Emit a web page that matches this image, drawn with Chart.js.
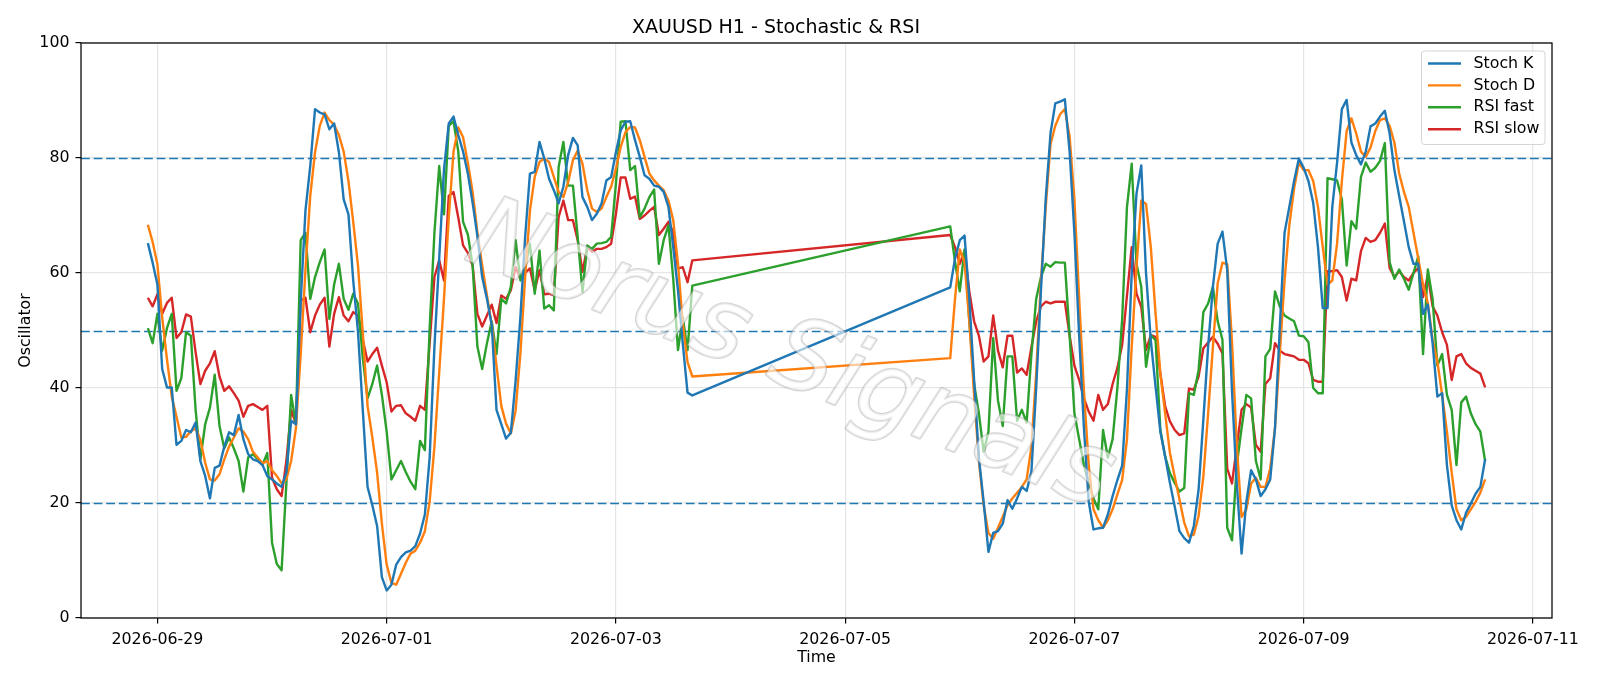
<!DOCTYPE html>
<html>
<head>
<meta charset="utf-8">
<title>XAUUSD H1 - Stochastic & RSI</title>
<script src="https://cdn.jsdelivr.net/npm/chart.js@4.4.1/dist/chart.umd.min.js"></script>
<style>
  html, body { margin: 0; padding: 0; background: #ffffff; }
  #wrap { width: 1600px; height: 686px; }
</style>
</head>
<body>
<div id="wrap"><canvas id="oscChart" width="1600" height="686"></canvas></div>
<script>
// H1 sessions: first bar (UTC) and number of hourly bars
const sessionStarts = ['2026-06-28T22:00:00Z', '2026-07-05T22:00:00Z'];
const sessionBars = [115, 113];

const tickDates = ['2026-06-29', '2026-07-01', '2026-07-03', '2026-07-05', '2026-07-07', '2026-07-09', '2026-07-11'];
const levels = [20, 50, 80];
const seriesNames = ['Stoch K', 'Stoch D', 'RSI fast', 'RSI slow'];
const chartTitle = 'XAUUSD H1 - Stochastic & RSI';
const watermarkText = 'Norus Signals';

// values, week 1 then (after the weekend) week 2
const stochK = [
  65.2, 61.8, 58.0, 43.3, 40.1, 40.1, 30.1, 30.8, 32.7, 32.3,
  34.0, 27.3, 24.7, 20.8, 26.1, 26.5, 29.8, 32.3, 31.8, 35.3,
  31.1, 28.5, 27.6, 27.3, 26.6, 24.7, 24.1, 23.4, 22.8, 25.3,
  34.3, 33.7, 55.0, 70.9, 78.6, 88.5, 87.9, 87.6, 85.0, 86.0,
  81.0, 72.8, 70.2, 58.7, 49.7, 36.2, 22.8, 19.6, 16.0, 7.1,
  4.8, 5.8, 9.3, 10.6, 11.4, 11.7, 12.5, 14.7, 18.0, 27.9,
  47.1, 62.5, 78.0, 86.0, 87.2, 84.0, 81.1, 77.3, 72.2, 66.4,
  59.3, 55.5, 51.0, 36.2, 33.7, 31.2, 32.2, 41.3, 52.3, 66.3,
  77.3, 77.6, 82.8, 79.9, 76.4, 74.4, 72.1, 75.0, 80.5, 83.5,
  82.2, 73.2, 71.5, 69.2, 70.3, 72.1, 76.1, 76.7, 81.0, 84.8,
  86.3, 86.4, 83.1, 80.2, 77.0, 76.4, 75.2, 75.0, 74.1, 71.5,
  64.5, 57.0, 47.7, 39.2, 38.7,
  // week 2
  57.5, 62.5, 65.7, 66.5, 55.5, 41.4, 27.9, 20.2, 11.5, 14.8,
  15.1, 16.4, 20.5, 19.0, 20.8, 22.8, 22.1, 25.5, 40.0, 57.0,
  73.0, 84.3, 89.5, 89.8, 90.2, 81.1, 67.0, 49.0, 33.0, 20.2,
  15.4, 15.6, 15.7, 18.0, 21.2, 24.0, 26.5, 39.7, 59.9, 73.8,
  78.7, 59.9, 48.3, 40.2, 32.4, 28.1, 23.5, 19.4, 15.1, 13.9,
  13.1, 16.0, 22.3, 34.5, 47.2, 57.6, 65.1, 67.2, 60.5, 39.4,
  23.4, 11.2, 20.2, 25.7, 24.1, 21.2, 22.4, 24.1, 33.0, 50.4,
  67.0, 71.5, 76.0, 79.9, 78.3, 76.0, 72.2, 64.5, 53.9, 53.9,
  71.5, 79.2, 88.5, 90.1, 82.7, 80.5, 78.9, 81.1, 85.5, 86.0,
  87.2, 88.2, 84.3, 77.9, 73.4, 69.0, 64.5, 61.6, 61.6, 52.9,
  54.5, 47.8, 38.5, 39.1, 26.6, 19.6, 17.0, 15.4, 18.3, 19.9,
  21.6, 22.8, 27.6
];

const stochD = [
  68.4, 65.4, 61.5, 52.3, 45.0, 38.5, 35.0, 31.4, 31.5, 32.5,
  33.0, 31.0, 27.0, 24.1, 23.9, 25.0, 27.6, 29.8, 31.4, 33.0,
  32.4, 31.1, 28.9, 27.9, 26.9, 27.3, 25.7, 24.7, 23.4, 24.1,
  27.3, 33.0, 45.9, 60.6, 73.4, 81.0, 85.6, 87.9, 86.6, 85.8,
  84.0, 81.1, 76.0, 68.9, 61.3, 49.7, 36.9, 31.4, 25.3, 16.4,
  9.3, 6.1, 5.8, 7.7, 9.6, 11.2, 11.7, 13.1, 15.1, 20.2,
  29.8, 42.7, 55.5, 69.6, 81.1, 85.3, 83.6, 79.2, 74.1, 67.0,
  61.3, 56.1, 51.0, 43.9, 36.9, 33.8, 32.1, 36.1, 46.0, 59.3,
  70.9, 76.7, 79.3, 79.9, 79.3, 76.7, 74.1, 73.2, 75.8, 79.6,
  81.3, 79.0, 74.4, 71.2, 70.6, 71.2, 73.2, 75.0, 78.1, 81.9,
  84.5, 85.4, 85.3, 83.1, 80.2, 77.3, 76.1, 75.2, 74.4, 72.6,
  69.2, 61.6, 51.2, 44.5, 42.0,
  // week 2
  45.2, 55.5, 64.1, 61.9, 51.6, 38.8, 27.3, 19.6, 14.8, 13.8,
  15.7, 17.6, 19.6, 20.8, 21.8, 22.8, 24.1, 29.8, 42.7, 58.7,
  71.5, 82.4, 85.6, 87.6, 88.5, 83.7, 72.8, 55.5, 39.4, 26.6,
  18.9, 17.0, 15.7, 17.0, 18.9, 21.5, 24.0, 31.0, 47.2, 61.0,
  72.6, 72.0, 64.5, 52.9, 42.5, 35.6, 28.7, 24.6, 20.6, 16.6,
  14.2, 14.5, 17.7, 24.6, 35.6, 47.2, 58.2, 61.8, 61.5, 48.0,
  30.0, 17.6, 18.9, 23.4, 24.4, 22.8, 22.8, 26.0, 33.0, 45.9,
  58.7, 68.3, 74.7, 79.2, 77.9, 77.9, 76.0, 71.5, 64.5, 58.0,
  58.7, 65.1, 76.0, 84.7, 86.9, 84.3, 81.1, 80.2, 81.8, 84.7,
  86.6, 86.9, 85.6, 82.7, 77.3, 74.1, 71.5, 67.0, 62.5, 58.0,
  54.8, 48.4, 44.6, 38.8, 32.4, 25.3, 18.9, 17.0, 17.6, 18.9,
  20.2, 21.8, 24.1
];

const rsiFast = [
  50.4, 47.8, 52.9, 46.5, 50.4, 52.9, 39.5, 41.7, 49.7, 49.1,
  36.2, 27.6, 33.7, 36.6, 42.3, 33.4, 29.5, 31.4, 29.5, 27.3,
  22.0, 27.9, 28.5, 27.6, 26.6, 28.7, 13.1, 9.4, 8.3, 23.4,
  38.8, 33.7, 65.7, 67.0, 55.5, 59.3, 61.9, 64.1, 52.0, 58.0,
  61.6, 55.5, 53.6, 56.4, 54.7, 45.2, 38.2, 40.7, 43.9, 38.8,
  32.4, 24.1, 25.7, 27.3, 25.4, 23.7, 22.4, 30.8, 29.2, 50.4,
  67.0, 78.6, 70.2, 85.6, 86.4, 81.1, 68.9, 66.7, 61.3, 47.2,
  43.3, 47.8, 51.6, 45.9, 55.5, 54.7, 57.6, 65.7, 58.7, 61.0,
  65.1, 56.4, 63.9, 53.8, 54.4, 53.5, 78.4, 82.8, 75.2, 75.2,
  66.3, 56.7, 64.8, 64.2, 65.1, 65.2, 65.4, 66.3, 75.5, 86.3,
  86.4, 77.9, 78.6, 69.7, 71.2, 73.2, 74.5, 61.6, 65.7, 68.3,
  59.0, 46.6, 52.3, 46.6, 57.8,
  // week 2
  68.1, 62.0, 56.8, 64.1, 51.6, 40.7, 35.6, 28.9, 32.4, 48.7,
  37.8, 33.4, 45.5, 45.5, 34.3, 36.2, 34.0, 45.9, 55.5, 59.3,
  61.6, 61.1, 61.9, 61.8, 61.8, 49.1, 35.6, 31.1, 26.6, 23.4,
  20.8, 18.9, 32.7, 27.9, 31.1, 40.0, 52.0, 71.4, 79.0, 61.6,
  57.6, 43.7, 49.2, 48.3, 32.7, 28.1, 25.2, 23.5, 22.0, 22.6,
  39.1, 38.8, 43.1, 53.2, 54.7, 57.6, 51.6, 48.4, 15.7, 13.5,
  26.6, 33.0, 38.8, 38.2, 27.3, 24.1, 45.5, 46.8, 56.8, 54.2,
  52.6, 52.1, 51.6, 49.1, 49.0, 48.0, 40.0, 39.1, 39.1, 76.5,
  76.3, 76.1, 72.8, 61.3, 69.0, 67.7, 76.7, 79.2, 77.6, 78.3,
  79.5, 82.6, 61.9, 59.0, 60.6, 59.0, 57.1, 60.0, 62.9, 45.9,
  60.6, 55.5, 43.9, 45.9, 38.8, 36.2, 26.6, 37.5, 38.5, 35.6,
  33.7, 32.4, 27.3
];

const rsiSlow = [
  55.7, 54.2, 56.3, 52.9, 54.8, 55.7, 48.7, 49.7, 52.8, 52.4,
  46.2, 40.7, 43.0, 44.3, 46.4, 42.0, 39.5, 40.3, 39.1, 37.8,
  35.0, 36.9, 37.2, 36.7, 36.2, 36.9, 24.4, 22.4, 21.2, 27.3,
  36.2, 33.7, 55.2, 55.7, 49.7, 52.6, 54.5, 55.7, 47.2, 52.9,
  55.8, 52.6, 51.6, 53.2, 52.6, 48.4, 44.6, 45.9, 47.0, 43.9,
  41.0, 35.9, 36.9, 37.0, 35.6, 35.0, 34.3, 36.9, 36.2, 47.8,
  59.3, 62.2, 58.7, 73.4, 74.1, 69.6, 64.8, 63.5, 61.3, 52.9,
  50.7, 52.6, 54.5, 51.3, 56.1, 55.5, 57.0, 61.0, 59.0, 60.0,
  60.8, 57.0, 60.5, 56.3, 56.4, 56.1, 69.7, 72.6, 69.2, 69.2,
  65.7, 60.2, 64.5, 63.7, 64.2, 64.2, 64.5, 65.1, 70.3, 76.6,
  76.6, 72.9, 73.3, 69.4, 70.0, 70.8, 71.5, 66.6, 67.7, 68.9,
  67.1, 60.8, 61.0, 58.4, 62.2,
  // week 2
  66.6, 64.5, 61.6, 63.8, 56.8, 51.6, 49.1, 44.6, 45.5, 52.6,
  46.5, 43.6, 49.1, 49.1, 42.7, 43.4, 42.3, 47.1, 51.6, 54.2,
  55.0, 54.7, 55.0, 55.0, 55.0, 49.1, 43.9, 41.4, 38.2, 35.9,
  34.3, 38.8, 36.2, 37.2, 40.7, 43.5, 47.5, 56.0, 64.5, 56.4,
  54.1, 46.6, 49.2, 48.9, 42.5, 36.8, 34.2, 32.7, 31.8, 32.1,
  39.9, 39.7, 42.0, 46.9, 47.9, 48.9, 47.7, 46.0, 26.0, 23.4,
  29.8, 36.2, 37.2, 36.6, 30.1, 28.9, 40.7, 41.7, 47.8, 46.5,
  45.9, 45.7, 45.5, 44.9, 44.9, 44.3, 41.4, 41.1, 41.1, 60.3,
  60.3, 60.5, 59.3, 55.2, 59.0, 58.7, 63.8, 66.1, 65.4, 65.7,
  67.0, 68.6, 60.9, 59.3, 60.3, 59.3, 58.7, 60.0, 60.9, 55.8,
  59.7, 54.2, 52.6, 49.7, 47.5, 41.4, 45.5, 45.9, 44.3, 43.5,
  43.0, 42.5, 40.1
];

const seriesColors = ['#1f77b4', '#ff7f0e', '#2ca02c', '#d62728'];
const FONT = 'DejaVu Sans';
const HOUR = 3600 * 1000;

// hourly bar times
const times = [];
sessionStarts.forEach((s, k) => {
    const t0 = Date.parse(s);
    for (let i = 0; i < sessionBars[k]; i++) times.push(t0 + i * HOUR);
});

// matplotlib style 5% margin on x
const span = times[times.length - 1] - times[0];
const xMin = times[0] - span * 0.05;
const xMax = times[times.length - 1] + span * 0.05;

function toPoints(values) {
    return values.map((v, i) => ({ x: times[i], y: v }));
}

function fmtDate(ms) {
    return new Date(ms).toISOString().slice(0, 10);
}

// level lines, watermark, frame and legend
const overlay = {
    id: 'overlay',
    beforeDatasetsDraw(chart) {
        const { ctx, chartArea: a, scales: { y } } = chart;
        ctx.save();
        ctx.strokeStyle = '#1f77b4';
        ctx.lineWidth = 1.6;
        ctx.setLineDash([8.8, 3.8]);
        levels.forEach(v => {
            const py = Math.round(y.getPixelForValue(v)) + 0.5;
            ctx.beginPath();
            ctx.moveTo(a.left, py);
            ctx.lineTo(a.right, py);
            ctx.stroke();
        });
        ctx.restore();
    },
    afterDatasetsDraw(chart) {
        const { ctx, chartArea: a } = chart;

        // watermark
        ctx.save();
        ctx.beginPath();
        ctx.rect(a.left, a.top, a.width, a.height);
        ctx.clip();
        ctx.translate(a.left + a.width * 0.482, a.top + a.height * 0.55);
        ctx.rotate(21.5 * Math.PI / 180);
        ctx.font = 'italic 100px "' + FONT + '"';
        ctx.textAlign = 'center';
        ctx.textBaseline = 'middle';
        ctx.lineJoin = 'round';
        ctx.lineWidth = 2.5;
        ctx.strokeStyle = 'rgba(150,150,150,0.4)';
        ctx.strokeText(watermarkText, 0, 0);
        ctx.fillStyle = 'rgba(255,255,255,0.6)';
        ctx.fillText(watermarkText, 0, 0);
        ctx.restore();

        // frame
        ctx.save();
        ctx.strokeStyle = '#000000';
        ctx.lineWidth = 1.25;
        ctx.strokeRect(a.left, a.top, a.width, a.height);
        ctx.restore();
    },
    afterDraw(chart) {
        const { ctx, chartArea: a } = chart;
        const box = { x: a.right - 130.5, y: a.top + 8, w: 123.5, h: 93.5 };
        ctx.save();
        ctx.beginPath();
        ctx.roundRect(box.x, box.y, box.w, box.h, 3);
        ctx.fillStyle = 'rgba(255,255,255,0.8)';
        ctx.fill();
        ctx.strokeStyle = '#d5d5d5';
        ctx.lineWidth = 1;
        ctx.stroke();
        ctx.font = '15.8px "' + FONT + '"';
        ctx.textBaseline = 'middle';
        ctx.textAlign = 'left';
        chart.data.datasets.forEach((ds, i) => {
            const ry = box.y + 12.5 + i * 21.9;
            ctx.strokeStyle = ds.borderColor;
            ctx.lineWidth = 2.4;
            ctx.beginPath();
            ctx.moveTo(box.x + 6.5, ry);
            ctx.lineTo(box.x + 39.5, ry);
            ctx.stroke();
            ctx.fillStyle = '#000000';
            ctx.fillText(ds.label, box.x + 52, ry);
        });
        ctx.restore();
    }
};

const datasets = [stochK, stochD, rsiFast, rsiSlow].map((vals, i) => ({
    label: seriesNames[i],
    data: toPoints(vals),
    borderColor: seriesColors[i],
    backgroundColor: seriesColors[i],
    borderWidth: 2.4,
    borderJoinStyle: 'round',
    pointRadius: 0,
    tension: 0,
    fill: false
}));

const tickFont = { family: FONT, size: 15.8 };

new Chart(document.getElementById('oscChart').getContext('2d'), {
    type: 'line',
    data: { datasets: datasets },
    options: {
        responsive: false,
        devicePixelRatio: 1,
        animation: false,
        layout: { padding: { left: 0, right: 48, top: 0, bottom: 0 } },
        plugins: {
            legend: { display: false },
            tooltip: { enabled: false },
            title: {
                display: true,
                text: chartTitle,
                color: '#000000',
                font: { family: FONT, size: 19, weight: 'normal' },
                padding: { top: 17, bottom: 3.2 }
            }
        },
        scales: {
            x: {
                type: 'linear',
                min: xMin,
                max: xMax,
                afterBuildTicks: axis => {
                    axis.ticks = tickDates.map(d => ({ value: Date.parse(d + 'T00:00:00Z') }));
                },
                afterFit: axis => { axis.height = 68; },
                ticks: {
                    autoSkip: false,
                    maxRotation: 0,
                    color: '#000000',
                    font: tickFont,
                    padding: 7,
                    callback: value => fmtDate(value)
                },
                grid: {
                    color: '#e6e6e6',
                    lineWidth: 1.2,
                    tickLength: 5.5,
                    tickColor: '#000000',
                    tickWidth: 1.2
                },
                border: { display: false },
                title: {
                    display: true,
                    text: 'Time',
                    color: '#000000',
                    font: tickFont,
                    padding: { top: 0, bottom: 18.5 }
                }
            },
            y: {
                min: 0,
                max: 100,
                afterFit: axis => { axis.width = 81; },
                ticks: {
                    stepSize: 20,
                    color: '#000000',
                    font: tickFont,
                    padding: 6
                },
                grid: {
                    color: '#e6e6e6',
                    lineWidth: 1.2,
                    tickLength: 5.5,
                    tickColor: '#000000',
                    tickWidth: 1.2
                },
                border: { display: false },
                title: {
                    display: true,
                    text: 'Oscillator',
                    color: '#000000',
                    font: tickFont,
                    padding: { top: 16, bottom: 0 }
                }
            }
        }
    },
    plugins: [overlay]
});
</script>
</body>
</html>
